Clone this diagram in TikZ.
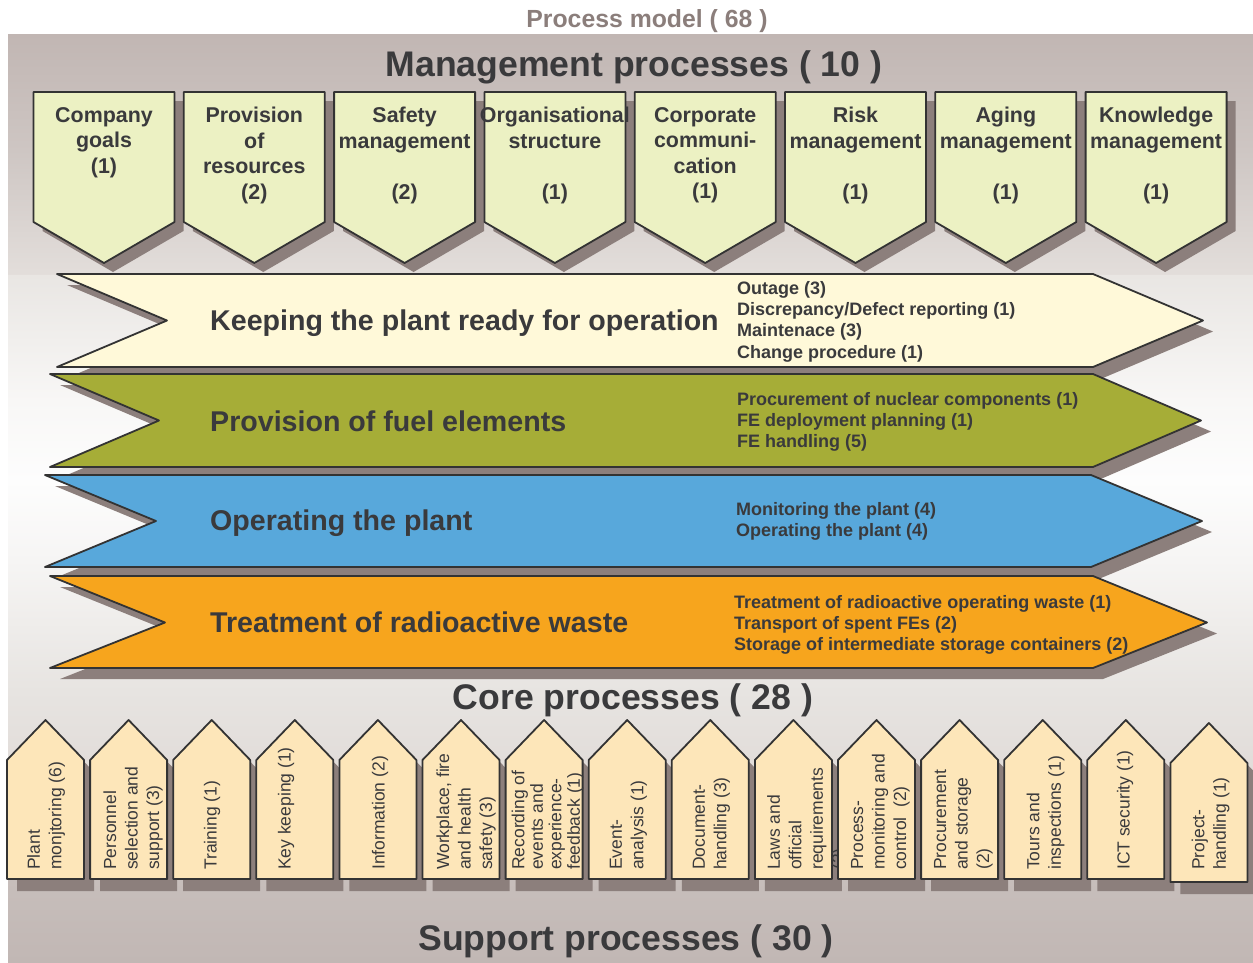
\documentclass[tikz,border=0pt]{standalone}
\usepackage{fontspec}
\setmainfont{Liberation Sans}

% palette
\definecolor{shadowc}{HTML}{8C7F7C}
\definecolor{linec}{HTML}{333333}
\definecolor{textc}{HTML}{3A3A3C}
\definecolor{titlec}{HTML}{8B7E7B}
\definecolor{mgmtfill}{HTML}{ECF1C3}
\definecolor{keepfill}{HTML}{FFF9D9}
\definecolor{fuelfill}{HTML}{A6AD37}
\definecolor{operfill}{HTML}{58A8DB}
\definecolor{wastefill}{HTML}{F7A51D}
\definecolor{suppfill}{HTML}{FDE6B9}
% background bands
\definecolor{bgA}{HTML}{C1B6B3}
\definecolor{bgB}{HTML}{CEC6C3}
\definecolor{bgC}{HTML}{E3DEDB}
\definecolor{bgD}{HTML}{E9E6E3}
\definecolor{bgE}{HTML}{F8F7F6}
\definecolor{bgF}{HTML}{FDFDFD}
\definecolor{bgG}{HTML}{F6F5F4}
\definecolor{bgH}{HTML}{E7E4E1}
\definecolor{bgI}{HTML}{E1DCD9}
\definecolor{bgJ}{HTML}{C7BEBB}
\definecolor{bgK}{HTML}{C1B7B4}

\tikzset{
  outline/.style={draw=linec, line width=1.8pt, line join=round},
  dropshadow/.style={fill=shadowc},
  heading/.style={font=\bfseries\fontsize{35.6}{40}\selectfont, text=textc, inner sep=0},
  mgmttext/.style={font=\bfseries\fontsize{21.4}{25.5}\selectfont, text=textc,
    align=center, anchor=north, inner sep=0},
  coretext/.style={font=\bfseries\fontsize{28.6}{32}\selectfont, text=textc,
    anchor=base west, inner sep=0},
  subtext/.style={font=\bfseries\fontsize{18}{21.3}\selectfont, text=textc,
    align=left, anchor=north west, inner sep=0},
  supptext/.style={text=textc, align=left, anchor=west, rotate=90, inner sep=0},
}

\begin{document}
\begin{tikzpicture}[x=1pt,y=-1pt]
\useasboundingbox (0,0) rectangle (1253,962);

% ---- background panel, vertical gradient bands
\shade[top color=bgA, bottom color=bgB] (8,34) rectangle (1253,151);
\shade[top color=bgB, bottom color=bgC] (8,150) rectangle (1253,276);
\shade[top color=bgD, bottom color=bgE] (8,275) rectangle (1253,401);
\shade[top color=bgE, bottom color=bgF] (8,400) rectangle (1253,481);
\shade[top color=bgF, bottom color=bgG] (8,480) rectangle (1253,561);
\shade[top color=bgG, bottom color=bgH] (8,560) rectangle (1253,691);
\shade[top color=bgH, bottom color=bgI] (8,690) rectangle (1253,771);
\shade[top color=bgI, bottom color=bgJ] (8,770) rectangle (1253,881);
\shade[top color=bgJ, bottom color=bgK] (8,880) rectangle (1253,962);

% ---- titles
\node[font=\bfseries\fontsize{24.8}{28}\selectfont, text=titlec, inner sep=0]
  (model) at (647,21) {Process model ( 68 )};
\node[heading] (mgmthead) at (634,67) {Management processes ( 10 )};

% ---- management processes: pentagons pointing down
\foreach \i/\nm/\txt in {
  0/goals/{Company\\goals\\(1)},
  1/resources/{Provision\\of\\resources\\(2)},
  2/safety/{Safety\\management\\[25.5pt](2)},
  3/organisation/{Organisational\\structure\\[25.5pt](1)},
  4/communication/{Corporate\\communi-\\cation\\(1)},
  5/risk/{Risk\\management\\[25.5pt](1)},
  6/aging/{Aging\\management\\[25.5pt](1)},
  7/knowledge/{Knowledge\\management\\[25.5pt](1)}} {
  \pgfmathsetmacro{\bxl}{33.5+150.3*\i}
  \pgfmathsetmacro{\bxr}{\bxl+141}
  \pgfmathsetmacro{\bxc}{\bxl+70.5}
  \fill[dropshadow, shift={(9,9)}]
    (\bxl,92) -- (\bxr,92) -- (\bxr,222) -- (\bxc,263) -- (\bxl,222) -- cycle;
  \draw[outline, fill=mgmtfill]
    (\bxl,92) -- (\bxr,92) -- (\bxr,222) -- (\bxc,263) -- (\bxl,222) -- cycle;
  \node[mgmttext] (mg-\nm) at (\bxc,107) {\txt};
}

% ---- core processes: notched arrows pointing right
% keeping the plant ready
\fill[dropshadow, shift={(10,11)}]
  (57,274) -- (1093,274) -- (1203,320.5) -- (1093,367) -- (57,367) -- (167,320.5) -- cycle;
\draw[outline, fill=keepfill]
  (57,274) -- (1093,274) -- (1203,320.5) -- (1093,367) -- (57,367) -- (167,320.5) -- cycle;
\node[coretext] (keep) at (210,330) {Keeping the plant ready for operation};
\node[subtext] (keeplist) at (737,281)
  {Outage (3)\\Discrepancy/Defect reporting (1)\\Maintenace (3)\\Change procedure (1)};

% provision of fuel elements
\fill[dropshadow, shift={(10,11)}]
  (50,374) -- (1093,374) -- (1201,420.5) -- (1093,467) -- (50,467) -- (159,420.5) -- cycle;
\draw[outline, fill=fuelfill]
  (50,374) -- (1093,374) -- (1201,420.5) -- (1093,467) -- (50,467) -- (159,420.5) -- cycle;
\node[coretext] (fuel) at (210,431) {Provision of fuel elements};
\node[subtext] (fuellist) at (737,392)
  {Procurement of nuclear components (1)\\FE deployment planning (1)\\FE handling (5)};

% operating the plant
\fill[dropshadow, shift={(10,11)}]
  (45,475) -- (1091,475) -- (1202,521) -- (1091,567) -- (45,567) -- (156,521) -- cycle;
\draw[outline, fill=operfill]
  (45,475) -- (1091,475) -- (1202,521) -- (1091,567) -- (45,567) -- (156,521) -- cycle;
\node[coretext] (oper) at (210,530) {Operating the plant};
\node[subtext] (operlist) at (736,502)
  {Monitoring the plant (4)\\Operating the plant (4)};

% treatment of radioactive waste
\fill[dropshadow, shift={(10,11)}]
  (50,576) -- (1093,576) -- (1207,622.5) -- (1093,668) -- (50,668) -- (165,622.5) -- cycle;
\draw[outline, fill=wastefill]
  (50,576) -- (1093,576) -- (1207,622.5) -- (1093,668) -- (50,668) -- (165,622.5) -- cycle;
\node[coretext] (waste) at (210,632) {Treatment of radioactive waste};
\node[subtext] (wastelist) at (734,595)
  {Treatment of radioactive operating waste (1)\\Transport of spent FEs (2)\\Storage of intermediate storage containers (2)};

\node[heading] (corehead) at (633,700) {Core processes ( 28 )};

% ---- support processes: pentagons pointing up, rotated labels
\foreach \i/\nm/\cx/\lead/\dy/\txt in {
  0/plantmon/46/21.5/0/{Plant\\monjtoring (6)},
  1/personnel/133/21.5/0/{Personnel\\selection and\\support (3)},
  2/training/212/21.5/0/{Training (1)},
  3/keys/286/21.5/0/{Key keeping (1)},
  4/information/380/21.5/0/{Information (2)},
  5/workplace/466/21.5/0/{Workplace, fire\\and health\\safety (3)},
  6/recording/547.5/18.5/0/{Recording of\\events and\\experience-\\feedback (1)},
  7/eventanalysis/628.5/21.5/0/{Event-\\analysis (1)},
  8/documents/711.5/21.5/0/{Document-\\handling (3)},
  9/laws/807.5/21.5/0/{Laws and\\official\\requirements\\(2)},
  10/processmon/880.5/21.5/0/{Process-\\monitoring and\\control\ \ (2)},
  11/procurement/963.5/21.5/0/{Procurement\\and storage\\(2)},
  12/tours/1045.5/21.5/0/{Tours and\\inspections (1)},
  13/ict/1125/21.5/0/{ICT security (1)},
  14/projects/1210.5/21.5/3/{Project-\\handling (1)}} {
  \pgfmathsetmacro{\bxl}{7+83.1*\i}
  \pgfmathsetmacro{\bxr}{\bxl+77}
  \pgfmathsetmacro{\bxc}{\bxl+38.5}
  \pgfmathsetmacro{\yapex}{720+\dy}
  \pgfmathsetmacro{\yshoulder}{760+\dy}
  \pgfmathsetmacro{\ybase}{879+\dy}
  \fill[dropshadow, shift={(10,12)}]
    (\bxl,\yshoulder) -- (\bxc,\yapex) -- (\bxr,\yshoulder) -- (\bxr,\ybase) -- (\bxl,\ybase) -- cycle;
  \draw[outline, fill=suppfill]
    (\bxl,\yshoulder) -- (\bxc,\yapex) -- (\bxr,\yshoulder) -- (\bxr,\ybase) -- (\bxl,\ybase) -- cycle;
  \node[supptext, font=\fontsize{17.5}{\lead}\selectfont] (sp-\nm) at (\cx,870) {\txt};
}

\node[heading] (supphead) at (626,941) {Support processes ( 30 )};
\end{tikzpicture}
\end{document}
